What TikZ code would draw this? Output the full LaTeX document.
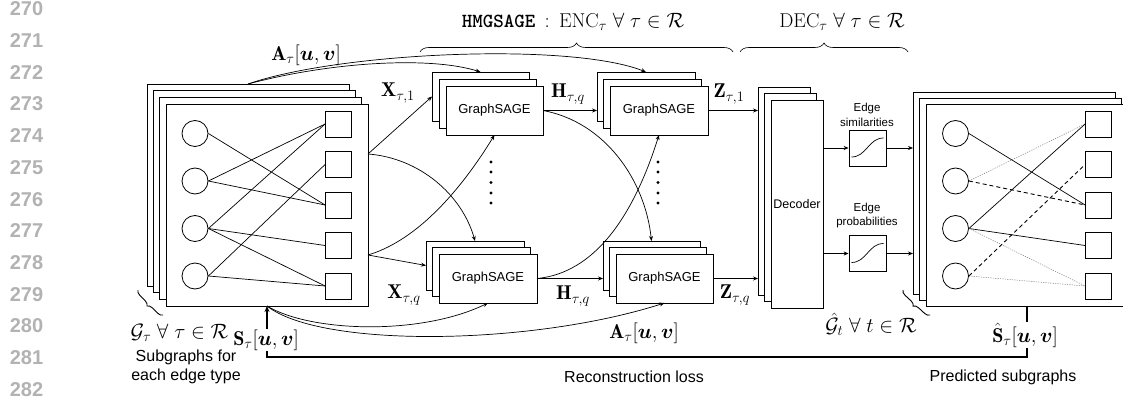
\documentclass[tikz,border=0pt]{standalone}
\usepackage{fontspec}
\usepackage{amsmath,amssymb,bm}
\newfontfamily\lsans{Liberation Sans}
\usetikzlibrary{arrows.meta,decorations.pathreplacing,calc}
\begin{document}
\begin{tikzpicture}[x=1pt,y=-1pt,
  sheet/.style={draw, fill=white, line width=0.8pt, inner sep=0pt, outer sep=0pt, rectangle, anchor=north west},
  lsheet/.style={sheet, minimum width=202pt, minimum height=202pt},
  gsheet/.style={sheet, minimum width=97pt, minimum height=49pt, font=\lsans\fontsize{13}{15}\selectfont},
  dsheet/.style={sheet, minimum width=52pt, minimum height=208pt, font=\lsans\fontsize{12.5}{15}\selectfont},
  vnode/.style={circle, draw, line width=0.8pt, minimum size=26pt, inner sep=0pt},
  unode/.style={rectangle, draw, line width=0.8pt, minimum size=26pt, inner sep=0pt},
  edge/.style={line width=0.7pt},
  rsolid/.style={line width=0.7pt},
  rdash/.style={line width=0.9pt, dash pattern=on 4pt off 3pt},
  rdot/.style={line width=0.5pt, gray, dash pattern=on 1.2pt off 1.2pt},
  arr/.style={-{Stealth[length=5pt,width=4pt]}, line width=0.7pt},
  lab/.style={font=\fontsize{20}{22}\selectfont, inner sep=0pt},
  txt/.style={font=\lsans\fontsize{16}{19}\selectfont, align=center, inner sep=0pt},
  small/.style={font=\lsans\fontsize{11.5}{14.5}\selectfont, align=center, inner sep=0pt},
  lnum/.style={font=\lsans\bfseries\fontsize{20}{22}\selectfont, text=black!30, inner sep=0pt},
  bracedec/.style={decorate, decoration={brace, amplitude=#1}, line width=0.6pt},
  sigbox/.style={rectangle, draw, line width=0.8pt, minimum width=37pt, minimum height=36pt, inner sep=0pt},
  loss/.style={line width=1.4pt, -{Stealth[length=6pt,width=5pt]}}
]
\useasboundingbox (0,0) rectangle (1123,398);

% line numbers
\foreach \n [count=\i from 0] in {270,...,282}
  \node[lnum] (ln\n) at (26.5, 9+\i*31.7) {\n};

% ---------- left stack ----------
\node[lsheet] (L0) at (147,84) {};
\node[lsheet] (L1) at (153.3,90.7) {};
\node[lsheet] (L2) at (159.7,97.3) {};
\node[lsheet] (L3) at (166,104) {};
\foreach \k/\y in {1/133.5,2/181,3/228.5,4/276}
  \node[vnode] (lc\k) at (195,\y) {};
\foreach \k/\y in {1/124,2/164.5,3/205,4/245.5,5/286}
  \node[unode] (ls\k) at (338.5,\y) {};
\foreach \a/\b in {1/3,2/1,2/3,3/1,3/4,3/5,4/2,4/5}
  \draw[edge] (lc\a.east) -- (ls\b.west);

% ---------- GraphSAGE stacks ----------
\node[gsheet] (TL0) at (432,72) {};
\node[gsheet] (TL1) at (439,79) {};
\node[gsheet] (TL2) at (446,86) {GraphSAGE};
\node[gsheet, minimum width=98pt] (TR0) at (597,72) {};
\node[gsheet, minimum width=98pt] (TR1) at (603.5,79) {};
\node[gsheet, minimum width=98pt] (TR2) at (610,86) {GraphSAGE};
\node[gsheet, minimum width=98pt] (BL0) at (426,241) {};
\node[gsheet, minimum width=98pt] (BL1) at (432.5,247.5) {};
\node[gsheet, minimum width=98pt] (BL2) at (439,254) {GraphSAGE};
\node[gsheet] (BR0) at (603,241) {};
\node[gsheet] (BR1) at (609.5,247.5) {};
\node[gsheet] (BR2) at (616,254) {GraphSAGE};

% vertical dots
\foreach \y in {162,172,182.5,193,203} {
  \fill (491,\y) circle (1.6);
  \fill (658,\y) circle (1.6);
}

% ---------- decoder ----------
\node[dsheet] (D0) at (758,87) {};
\node[dsheet] (D1) at (764.5,93.5) {};
\node[dsheet] (D2) at (771,100) {Decoder};

% ---------- sigmoid boxes ----------
\node[sigbox] (sig1) at (867.5,148) {};
\node[sigbox] (sig2) at (867.5,253.5) {};
\foreach \s in {sig1,sig2}
  \draw[line width=0.7pt] ($(\s.center)+(-16,9)$) .. controls ($(\s.center)+(-1,9)$) and ($(\s.center)+(1,-10)$) .. ($(\s.center)+(16,-10)$);
\node[small] (es) at (867,115) {Edge\\similarities};
\node[small] (ep) at (867,215.5) {Edge\\probabilities};

% ---------- right stack ----------
\node[lsheet] (R0) at (913,92) {};
\node[lsheet] (R1) at (919.5,98) {};
\node[lsheet] (R2) at (926,104) {};
\foreach \k/\y in {1/133.5,2/181,3/228.5,4/276}
  \node[vnode] (rc\k) at (955.5,\y) {};
\foreach \k/\y in {1/124,2/164.5,3/205,4/245.5,5/286}
  \node[unode] (rs\k) at (1098.5,\y) {};
\foreach \a/\b/\s in {1/3/rsolid,2/1/rdot,2/3/rdash,3/1/rsolid,3/4/rsolid,3/5/rdot,4/2/rdash,4/5/rdot}
  \draw[\s] (rc\a.east) -- (rs\b.west);

% ---------- connectors ----------
\coordinate (xo1) at ($(L3.east)+(0,-51)$);
\coordinate (xoq) at ($(L3.east)+(0,50)$);
% A top
\draw[arr] (L0.north) .. controls (330,62) and (430,56) .. (TL0.north);
\draw[arr] (L0.north) .. controls (340,52) and (570,42) .. (TR0.north);
% X
\draw[arr] (xo1) -- (TL0.west);
\draw[arr] (xo1) .. controls (420,158) and (462,195) .. (BL0.north);
\draw[arr] (xoq) -- (BL0.west);
\draw[arr] (xoq) .. controls (425,238) and (470,175) .. (TL2.south);
% H
\draw[arr] (TL2.east) -- (TL2.east -| TR0.west);
\draw[arr] (TL2.east) .. controls (605,122) and (645,180) .. (BR0.north);
\draw[arr] (BL2.east) -- (BL2.east -| BR0.west);
\draw[arr] (BL2.east) .. controls (605,272) and (640,195) .. (TR2.south);
% Z
\draw[arr] (TR2.east) -- (TR2.east -| D0.west);
\draw[arr] (BR2.east) -- (BR2.east -| D0.west);
% A bottom
\draw[arr] (L3.south) .. controls (310,332) and (420,336) .. (BL2.south);
\draw[arr] (L3.south) .. controls (320,348) and (530,346) .. (BR2.south);
% decoder to sigmoid to output
\draw[arr] (sig1.west -| D2.east) -- (sig1.west);
\draw[arr] (sig2.west -| D2.east) -- (sig2.west);
\draw[arr] (sig1.east) -- (sig1.east -| R0.west);
\draw[arr] (sig2.east) -- (sig2.east -| R0.west);

% reconstruction loss
\draw[loss] (R2.south) -- ++(0,51) -| (L3.south);

% ---------- braces ----------
\draw[bracedec=9pt] (420,52) -- (733,52);
\draw[bracedec=9pt] (740,52) -- (908,52);
\draw[bracedec=5pt, line width=0.9pt] (163,315) -- (138,290);
\draw[bracedec=5pt, line width=0.9pt] (930,315) -- (903,290);

% ---------- labels ----------
\node[lab] (encl) at (573,22) {$\texttt{\textbf{HMGSAGE}}\,:\,\mathrm{ENC}_\tau\;\forall\;\tau\in\mathcal{R}$};
\node[lab] (decl) at (842,22) {$\mathrm{DEC}_\tau\;\forall\;\tau\in\mathcal{R}$};
\node[lab] (atl) at (306,55) {$\mathbf{A}_\tau[\bm u,\bm v]$};
\node[lab] (abl) at (644,333) {$\mathbf{A}_\tau[\bm u,\bm v]$};
\node[lab] (x1l) at (398,93) {$\mathbf{X}_{\tau,1}$};
\node[lab] (xql) at (404,295) {$\mathbf{X}_{\tau,q}$};
\node[lab] (h1l) at (568,94) {$\mathbf{H}_{\tau,q}$};
\node[lab] (hql) at (573,296) {$\mathbf{H}_{\tau,q}$};
\node[lab] (z1l) at (729,94) {$\mathbf{Z}_{\tau,1}$};
\node[lab] (zql) at (735,295) {$\mathbf{Z}_{\tau,q}$};
\node[lab] (gl) at (179.5,333) {$\mathcal{G}_\tau\;\forall\;\tau\in\mathcal{R}$};
\node[lab] (ghl) at (871,324) {$\hat{\mathcal{G}}_t\;\forall\;t\in\mathcal{R}$};
\node[lab, fill=white, inner sep=1pt] (sl) at (266,340) {$\mathbf{S}_\tau[\bm u,\bm v]$};
\node[lab, fill=white, inner sep=1pt] (shl) at (1025,335) {$\hat{\mathbf{S}}_\tau[\bm u,\bm v]$};
\node[txt] (subl) at (186,367) {Subgraphs for\\each edge type};
\node[txt] (recl) at (634,377) {Reconstruction loss};
\node[txt] (predl) at (1003,377) {Predicted subgraphs};
\end{tikzpicture}
\end{document}
